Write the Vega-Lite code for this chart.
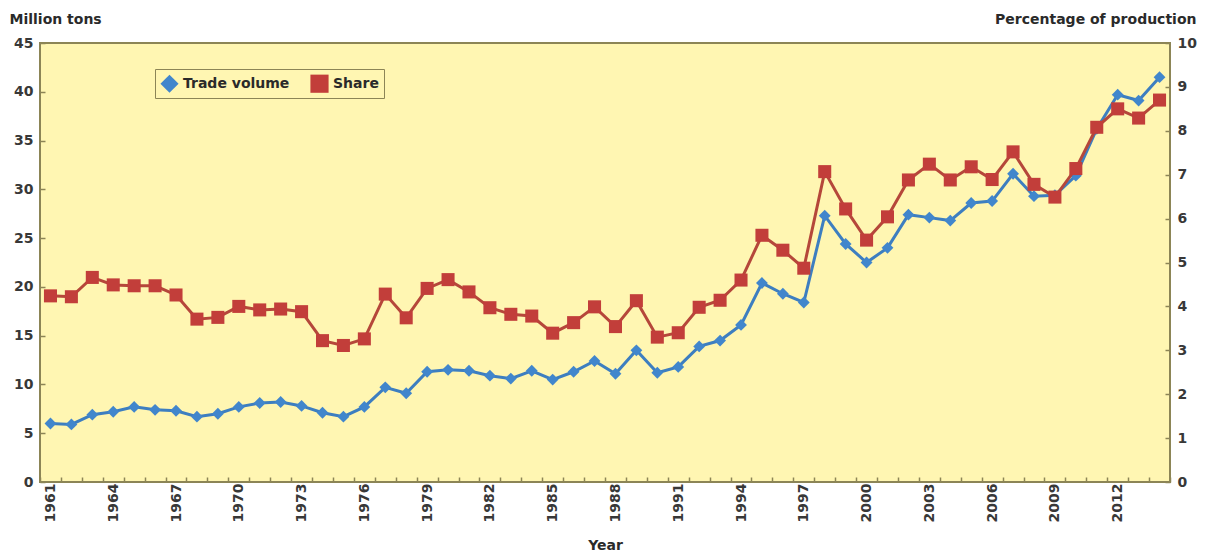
{
  "$schema": "https://vega.github.io/schema/vega-lite/v6.json",
  "autosize": "none",
  "width": 1130,
  "height": 439,
  "padding": {"left": 40, "top": 43, "right": 35, "bottom": 71},
  "background": "white",
  "config": {
    "font": "DejaVu Sans",
    "view": {"fill": "#FFF6B2", "stroke": "#8C8556", "strokeWidth": 2},
    "axis": {
      "labelColor": "#383838",
      "titleColor": "#2a2a2a",
      "labelFontSize": 14,
      "labelFontWeight": "bold",
      "titleFontSize": 14,
      "titleFontWeight": "bold",
      "domain": false,
      "tickColor": "#8C8556",
      "tickWidth": 1.5,
      "grid": false
    }
  },
  "data": {
    "values": [
      {"Year": 1961, "Trade volume": 6.0, "Share": 4.24},
      {"Year": 1962, "Trade volume": 5.9, "Share": 4.22},
      {"Year": 1963, "Trade volume": 6.9, "Share": 4.66},
      {"Year": 1964, "Trade volume": 7.2, "Share": 4.49},
      {"Year": 1965, "Trade volume": 7.7, "Share": 4.47},
      {"Year": 1966, "Trade volume": 7.4, "Share": 4.47},
      {"Year": 1967, "Trade volume": 7.3, "Share": 4.26},
      {"Year": 1968, "Trade volume": 6.7, "Share": 3.71},
      {"Year": 1969, "Trade volume": 7.0, "Share": 3.75},
      {"Year": 1970, "Trade volume": 7.7, "Share": 4.0},
      {"Year": 1971, "Trade volume": 8.1, "Share": 3.92},
      {"Year": 1972, "Trade volume": 8.2, "Share": 3.94},
      {"Year": 1973, "Trade volume": 7.8, "Share": 3.88},
      {"Year": 1974, "Trade volume": 7.1, "Share": 3.22},
      {"Year": 1975, "Trade volume": 6.7, "Share": 3.11},
      {"Year": 1976, "Trade volume": 7.7, "Share": 3.26},
      {"Year": 1977, "Trade volume": 9.7, "Share": 4.28},
      {"Year": 1978, "Trade volume": 9.1, "Share": 3.74},
      {"Year": 1979, "Trade volume": 11.3, "Share": 4.41},
      {"Year": 1980, "Trade volume": 11.5, "Share": 4.61},
      {"Year": 1981, "Trade volume": 11.4, "Share": 4.33},
      {"Year": 1982, "Trade volume": 10.9, "Share": 3.97},
      {"Year": 1983, "Trade volume": 10.6, "Share": 3.82},
      {"Year": 1984, "Trade volume": 11.4, "Share": 3.78},
      {"Year": 1985, "Trade volume": 10.5, "Share": 3.39},
      {"Year": 1986, "Trade volume": 11.3, "Share": 3.63},
      {"Year": 1987, "Trade volume": 12.4, "Share": 3.99},
      {"Year": 1988, "Trade volume": 11.1, "Share": 3.54},
      {"Year": 1989, "Trade volume": 13.5, "Share": 4.13},
      {"Year": 1990, "Trade volume": 11.2, "Share": 3.30},
      {"Year": 1991, "Trade volume": 11.8, "Share": 3.40},
      {"Year": 1992, "Trade volume": 13.9, "Share": 3.98},
      {"Year": 1993, "Trade volume": 14.5, "Share": 4.14},
      {"Year": 1994, "Trade volume": 16.1, "Share": 4.60},
      {"Year": 1995, "Trade volume": 20.4, "Share": 5.62},
      {"Year": 1996, "Trade volume": 19.3, "Share": 5.28},
      {"Year": 1997, "Trade volume": 18.4, "Share": 4.87},
      {"Year": 1998, "Trade volume": 27.3, "Share": 7.07},
      {"Year": 1999, "Trade volume": 24.4, "Share": 6.22},
      {"Year": 2000, "Trade volume": 22.5, "Share": 5.51},
      {"Year": 2001, "Trade volume": 24.0, "Share": 6.04},
      {"Year": 2002, "Trade volume": 27.4, "Share": 6.88},
      {"Year": 2003, "Trade volume": 27.1, "Share": 7.24},
      {"Year": 2004, "Trade volume": 26.8, "Share": 6.88},
      {"Year": 2005, "Trade volume": 28.6, "Share": 7.18},
      {"Year": 2006, "Trade volume": 28.8, "Share": 6.89},
      {"Year": 2007, "Trade volume": 31.6, "Share": 7.52},
      {"Year": 2008, "Trade volume": 29.3, "Share": 6.78},
      {"Year": 2009, "Trade volume": 29.4, "Share": 6.49},
      {"Year": 2010, "Trade volume": 31.4, "Share": 7.14},
      {"Year": 2011, "Trade volume": 36.2, "Share": 8.08},
      {"Year": 2012, "Trade volume": 39.7, "Share": 8.50},
      {"Year": 2013, "Trade volume": 39.1, "Share": 8.29},
      {"Year": 2014, "Trade volume": 41.5, "Share": 8.70}
    ]
  },
  "transform": [{"fold": ["Trade volume", "Share"], "as": ["Series", "Value"]}],
  "encoding": {
    "x": {
      "field": "Year",
      "type": "ordinal",
      "scale": {"type": "band", "paddingInner": 0, "paddingOuter": 0},
      "axis": {
        "title": "Year",
        "labelAngle": 270,
        "tickBand": "extent",
        "tickSize": -5,
        "labelPadding": 6,
        "labelOverlap": false,
        "labelExpr": "(datum.value - 1961) % 3 == 0 ? datum.label : ''",
        "titlePadding": 17
      }
    }
  },
  "layer": [
    {
      "transform": [{"filter": "datum.Series == 'Trade volume'"}],
      "encoding": {
        "y": {
          "field": "Value",
          "type": "quantitative",
          "scale": {"domain": [0, 45], "nice": false},
          "axis": {
            "orient": "left",
            "title": "Million tons",
            "values": [0, 5, 10, 15, 20, 25, 30, 35, 40, 45],
            "tickSize": -5,
            "labelPadding": 12,
            "titleAngle": 0,
            "titleAlign": "left",
            "titleBaseline": "bottom",
            "titleX": -31,
            "titleY": -17
          }
        }
      },
      "layer": [
        {"mark": {"type": "line", "color": "#3D7EC0", "strokeWidth": 3}},
        {
          "mark": {"type": "point", "filled": true, "opacity": 1, "size": 140},
          "encoding": {
            "color": {
              "field": "Series",
              "type": "nominal",
              "scale": {"domain": ["Trade volume", "Share"], "range": ["#4186CC", "#C23E3A"]},
              "legend": {
                "orient": "none",
                "legendX": 115,
                "legendY": 26,
                "direction": "horizontal",
                "title": null,
                "strokeColor": "#8C8556",
                "fillColor": "#FFF6B2",
                "padding": 5,
                "symbolSize": 330,
                "labelFontSize": 14,
                "labelFontWeight": "bold",
                "labelColor": "#2a2a2a",
                "labelOffset": 4,
                "columnPadding": 20,
                "symbolStrokeWidth": 0
              }
            },
            "shape": {
              "field": "Series",
              "type": "nominal",
              "scale": {"domain": ["Trade volume", "Share"], "range": ["diamond", "square"]}
            }
          }
        }
      ]
    },
    {
      "transform": [{"filter": "datum.Series == 'Share'"}],
      "encoding": {
        "y": {
          "field": "Value",
          "type": "quantitative",
          "scale": {"domain": [0, 10], "nice": false},
          "axis": {
            "orient": "right",
            "title": "Percentage of production",
            "values": [0, 1, 2, 3, 4, 5, 6, 7, 8, 9, 10],
            "tickSize": -5,
            "labelPadding": 12,
            "titleAngle": 0,
            "titleAlign": "right",
            "titleBaseline": "bottom",
            "titleX": 26,
            "titleY": -17
          }
        }
      },
      "layer": [
        {"mark": {"type": "line", "color": "#B5473A", "strokeWidth": 3}},
        {
          "mark": {"type": "point", "filled": true, "opacity": 1, "size": 170},
          "encoding": {
            "color": {"field": "Series", "type": "nominal"},
            "shape": {"field": "Series", "type": "nominal"}
          }
        }
      ]
    }
  ],
  "resolve": {"scale": {"y": "independent"}}
}
